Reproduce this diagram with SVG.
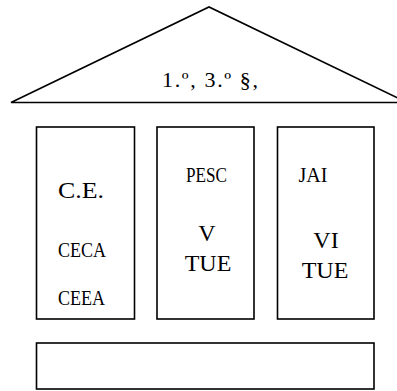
<svg xmlns="http://www.w3.org/2000/svg" width="397" height="391" viewBox="0 0 397 391">
<style>
.s{fill:#fff;stroke:#000;stroke-width:1.6}
.t{font-family:"Liberation Serif","Times New Roman",serif;fill:#000;text-anchor:middle}
.big{font-size:24px}
.sm{font-size:20px}
</style>
<rect width="397" height="391" fill="#fff"/>
<g id="roof">
<polygon class="s" points="11,102.5 209,7 407,102.5"/>
<text class="t" style="font-size:22px" x="210" y="87" textLength="96" lengthAdjust="spacing">1.º, 3.º §,</text>
</g>
<g id="pillar1">
<rect class="s" x="36.5" y="127" width="98" height="192"/>
<text class="t big" x="81" y="198" textLength="46" lengthAdjust="spacingAndGlyphs">C.E.</text>
<text class="t sm" x="82" y="257" textLength="48" lengthAdjust="spacingAndGlyphs">CECA</text>
<text class="t sm" x="81.5" y="305" textLength="47" lengthAdjust="spacingAndGlyphs">CEEA</text>
</g>
<g id="pillar2">
<rect class="s" x="157" y="127" width="97" height="192"/>
<text class="t sm" x="206.5" y="182" textLength="41" lengthAdjust="spacingAndGlyphs">PESC</text>
<text class="t big" x="207" y="241">V</text>
<text class="t big" x="208" y="271">TUE</text>
</g>
<g id="pillar3">
<rect class="s" x="277.5" y="127" width="96.5" height="192"/>
<text class="t sm" x="313" y="182">JAI</text>
<text class="t big" x="326" y="248">VI</text>
<text class="t big" x="325" y="278">TUE</text>
</g>
<g id="base">
<rect class="s" x="36.5" y="343" width="337.5" height="46"/>
</g>
<g id="connectors"/>
</svg>
